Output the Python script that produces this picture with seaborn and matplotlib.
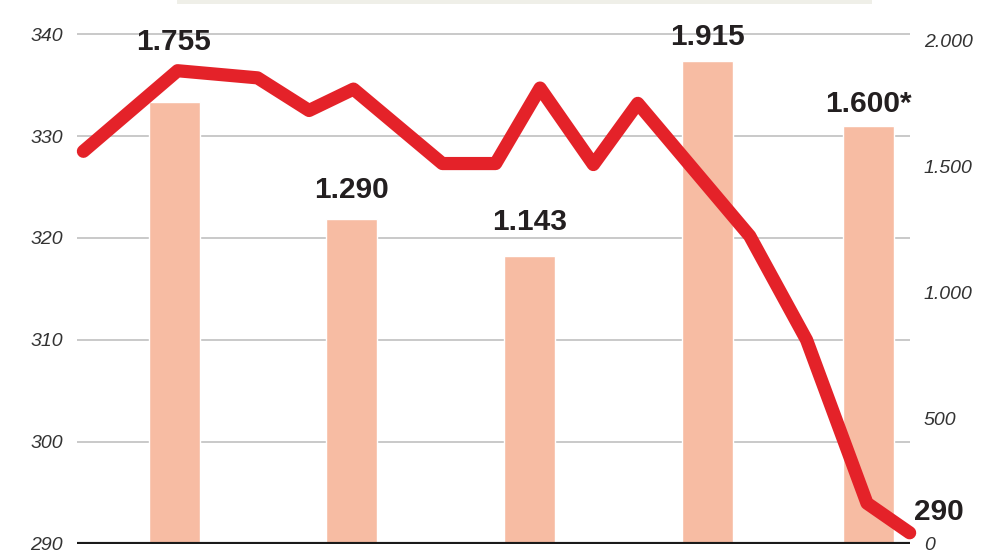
import matplotlib.pyplot as plt
import matplotlib.patches as mpatches
import seaborn as sns
import numpy as np

# yearly bars, right axis (0 - 2.000)
bar_years = [2014, 2015, 2016, 2017, 2017.91]
bar_values = [1755, 1290, 1143, 1915, 1660]
bar_labels = ["1.755", "1.290", "1.143", "1.915", "1.600*"]

# red line, left axis (290 - 340)
line_x = [2013.49, 2014.02, 2014.47, 2014.76, 2015.01, 2015.51, 2015.81,
          2016.06, 2016.36, 2016.61, 2017.24, 2017.56, 2017.90, 2018.14]
line_values = [328.5, 336.4, 335.7, 332.5, 334.6, 327.3, 327.3,
               334.7, 327.2, 333.2, 320.2, 310.0, 294.0, 291.1]
line_end_label = "290"

left_ticks = [290, 300, 310, 320, 330, 340]
right_ticks = [0, 500, 1000, 1500, 2000]
right_ticklabels = ["0", "500", "1.000", "1.500", "2.000"]

BAR_COLOR = "#f7bca3"
LINE_COLOR = "#e42229"
TEXT_COLOR = "#231f20"
TICK_COLOR = "#333333"

sns.set_theme(style="white")
plt.rcParams['font.family'] = ['Liberation Sans', 'DejaVu Sans']

fig = plt.figure(figsize=(9.92, 5.58), dpi=100)
ax = fig.add_axes([77 / 992, 14 / 558, 833 / 992, 530.4 / 558])

# grey strip cut off at the top of the picture
fig.patches.append(mpatches.Rectangle((177 / 992, 1 - 4 / 558), 695 / 992, 4 / 558,
                                      transform=fig.transFigure, color="#efefe8", lw=0))

# left scale + grid
ax.set_ylim(290, 342)
ax.set_yticks(left_ticks)
ax.set_yticklabels([str(t) for t in left_ticks], fontstyle='italic')
ax.tick_params(axis='y', length=0, pad=10, labelsize=14, labelcolor=TICK_COLOR)
ax.set_xticks([])
ax.grid(axis='y', color="#c9c9c9", lw=1.4)
ax.set_axisbelow(True)
for s in ax.spines.values():
    s.set_visible(False)

# bars on the right scale
ax_bar = ax.twinx()
bar_w = 0.287
sns.barplot(x=bar_years, y=bar_values, native_scale=True, orient='x',
            width=bar_w / np.diff(sorted(bar_years)).min(),
            color=BAR_COLOR, saturation=1, ax=ax_bar)
ax_bar.set_ylim(0, 2105)
ax_bar.set_yticks(right_ticks)
ax_bar.set_yticklabels(right_ticklabels, fontstyle='italic')
ax_bar.yaxis.tick_right()
ax_bar.tick_params(axis='y', length=0, pad=10, labelsize=14, labelcolor=TICK_COLOR)
ax_bar.set_xticks([])
ax_bar.set_xlabel("")
ax_bar.set_ylabel("")
for s in ax_bar.spines.values():
    s.set_visible(False)

label_lift = [43, 21, 24.5, 17.6, 15.5]
for xb, vb, lbl, lift in zip(bar_years, bar_values, bar_labels, label_lift):
    ax_bar.annotate(lbl, (xb, vb), xytext=(0, lift), textcoords='offset points',
                    ha='center', va='center', fontsize=21.5, fontweight='bold',
                    color=TEXT_COLOR)

# line on top
ax_line = ax.twinx()
ax_line.set_ylim(290, 342)
ax_line.axhline(290, color="#1a1a1a", lw=3, zorder=1)
sns.lineplot(x=line_x, y=line_values, sort=False, color=LINE_COLOR, lw=9.5,
             solid_capstyle='round', solid_joinstyle='round', clip_on=False,
             ax=ax_line, zorder=3)
ax_line.set_yticks([])
ax_line.set_xticks([])
ax_line.set_xlabel("")
ax_line.set_ylabel("")
for s in ax_line.spines.values():
    s.set_visible(False)
ax_line.annotate(line_end_label, (line_x[-1], line_values[-1]), xytext=(21, 15),
                 textcoords='offset points', ha='center', va='center',
                 fontsize=21.5, fontweight='bold', color=TEXT_COLOR,
                 annotation_clip=False)

ax.set_xlim(2013.454, 2018.142)

fig.savefig("out.png", dpi=100)
